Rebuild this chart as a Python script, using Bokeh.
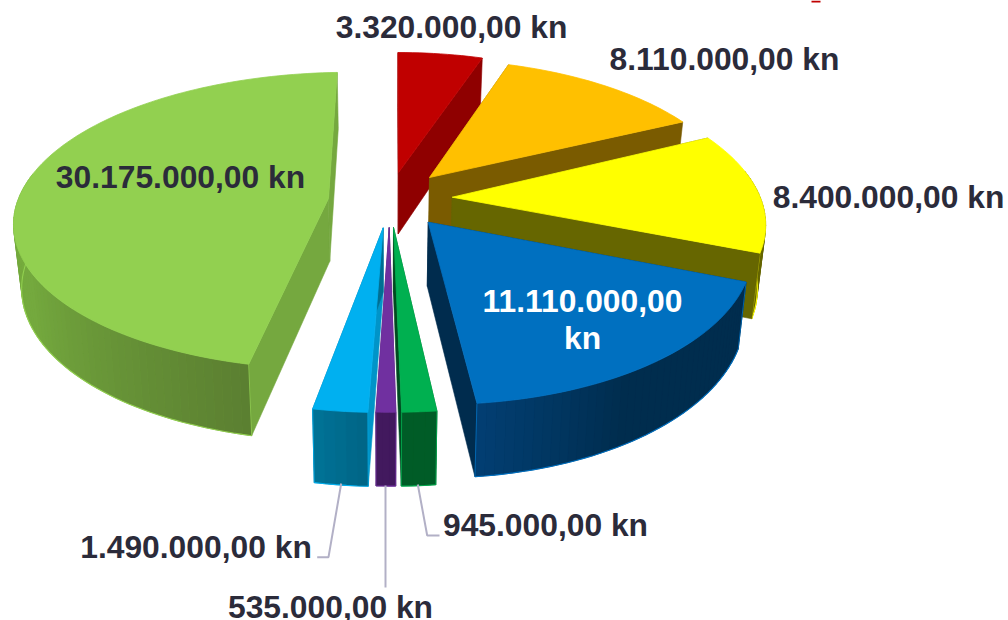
import math
from bokeh.plotting import figure
from bokeh.embed import file_html
from bokeh.resources import INLINE
from bokeh.core.properties import value

# ---- data ----
categories = ["red", "orange", "yellow", "blue", "green", "purple", "cyan", "lightgreen"]
amounts = [3320000, 8110000, 8400000, 11110000, 945000, 535000, 1490000, 30175000]
labels = ["3.320.000,00 kn", "8.110.000,00 kn", "8.400.000,00 kn", "11.110.000,00\nkn",
          "945.000,00 kn", "535.000,00 kn", "1.490.000,00 kn", "30.175.000,00 kn"]

# ---- styles / layout ----
face = ["#C00000", "#FFC000", "#FFFF00", "#0070C0", "#00B050", "#7030A0", "#00B0F0", "#92D050"]
start_wall = ["#8F0000", "#7A5B00", "#666600", "#002C4E", "#005C27", "#42195E", "#0094C8", "#75A83F"]
end_wall = ["#8F0000", "#7A5B00", "#666600", "#002C4E", "#004A20", "#42195E", "#006E92", "#75A83F"]
rim_stops = [
    [(0, "#8F0000"), (1, "#8F0000")],
    [(0, "#7A5B00"), (1, "#7A5B00")],
    [(0, "#666600"), (1, "#666600")],
    [(0, "#002D4E"), (0.6, "#002D4E"), (1, "#023F73")],
    [(0, "#005C27"), (1, "#005C27")],
    [(0, "#42195E"), (1, "#42195E")],
    [(0, "#006485"), (1, "#007397")],
    [(0, "#5B7F31"), (0.3, "#74A93E"), (1, "#7DB543")],
]
# apex x, apex y, rx, ry, shear x, side perspective  (per exploded slice)
geom = [
    (398.0, 172.0, 301, 138, 0.6, 0.0),
    (429.0, 177.0, 303, 136, 7.0, 0.0),
    (451.7, 196.7, 308, 145, 11.4, 0.0),
    (427.7, 221.7, 320, 155, 7.0, 0.0),
    (393.0, 227.0, 325, 157, 1.9, 0.0),
    (388.7, 227.0, 325, 157, 0.7, 0.0),
    (382.7, 227.3, 325, 157, -1.0, 0.0),
    (328.0, 198.0, 323, 145, -10.0, 0.042),
]
rim_behind_walls = [True, True, True, False, False, False, False, False]
PERSP = 0.15
INK = "#2B2B3A"
LEADER = "#B2B0C6"
FONT = "Liberation Sans"
FS = "31.8px"
BASE_SHIFT = -11.5

label_pos = [
    [(451, 38)], [(724, 70)], [(888, 208)], [(582, 312), (582, 349)],
    [(545, 536)], [(330, 618)], [(195.5, 557.5)], [(180, 188)],
]
label_col = [INK, INK, INK, "#FFFFFF", INK, INK, INK, INK]
leaders = [
    ([340.7, 328, 316.7], [483, 556.7, 556.7]),
    ([385, 385], [485, 587]),
    ([417.3, 426.7, 439], [484, 535, 535]),
]


def rim_pt(g, theta):
    ax, ay, rx, ry, sx, q = g
    u, v = math.sin(theta), -math.cos(theta)
    w = 1 - PERSP * v - q * u
    return ax + (rx * u + sx * v) / w, ay + ry * v / w


def drop(x, y):
    return x + 0.022 * (385 - x), y + 52.5 + 0.052 * y


def lerp_color(stops, t):
    for (t0, c0), (t1, c1) in zip(stops, stops[1:]):
        if t <= t1:
            f = (t - t0) / (t1 - t0) if t1 > t0 else 0
            a = [int(c0[i:i + 2], 16) for i in (1, 3, 5)]
            b = [int(c1[i:i + 2], 16) for i in (1, 3, 5)]
            return "#%02X%02X%02X" % tuple(round(p + (q - p) * f) for p, q in zip(a, b))
    return stops[-1][1]


p = figure(width=1008, height=620, x_range=(0, 1008), y_range=(620, 0),
           toolbar_location=None, output_backend="svg", min_border=0)
p.axis.visible = False
p.grid.visible = False
p.outline_line_color = None
p.background_fill_color = "#FFFFFF"
p.border_fill_color = "#FFFFFF"

total = sum(amounts)
edges = [0.0]
for a in amounts:
    edges.append(edges[-1] + a / total * 2 * math.pi)


def draw_walls(i, apex, apex_b, top, bot):
    p.patch([apex[0], top[0][0], bot[0][0], apex_b[0]], [apex[1], top[0][1], bot[0][1], apex_b[1]],
            fill_color=start_wall[i], line_color=start_wall[i], line_width=0.6)
    p.patch([apex[0], top[-1][0], bot[-1][0], apex_b[0]], [apex[1], top[-1][1], bot[-1][1], apex_b[1]],
            fill_color=end_wall[i], line_color=end_wall[i], line_width=0.6)


def draw_rim(i, angles, top, bot):
    n = len(angles) - 1
    vis = [k for k in range(n + 1) if -math.cos(angles[k]) >= -0.2]
    if len(vis) < 2:
        return
    tv = [top[k] for k in vis]
    bv = [bot[k] for k in vis]
    mid = lerp_color(rim_stops[i], 0.5)
    p.patch([q[0] for q in tv] + [q[0] for q in reversed(bv)],
            [q[1] for q in tv] + [q[1] for q in reversed(bv)],
            fill_color=mid, line_color=None)
    xs, ys, cols = [], [], []
    for k in vis[:-1]:
        xs.append([top[k][0], top[k + 1][0], bot[k + 1][0], bot[k][0]])
        ys.append([top[k][1], top[k + 1][1], bot[k + 1][1], bot[k][1]])
        cols.append(lerp_color(rim_stops[i], (k + 0.5) / n))
    p.patches(xs, ys, fill_color=cols, line_color=cols, line_width=0.5)
    p.line([q[0] for q in bv], [q[1] for q in bv], line_color=face[i], line_width=1.1)
    if vis[0] == 0:
        p.line([tv[0][0], bv[0][0]], [tv[0][1], bv[0][1]], line_color=face[i], line_width=0.8)
    if vis[-1] == n:
        p.line([tv[-1][0], bv[-1][0]], [tv[-1][1], bv[-1][1]], line_color=face[i], line_width=0.8)


for i, name in enumerate(categories):
    g = geom[i]
    t0, t1 = edges[i], edges[i + 1]
    n = max(3, int(math.degrees(t1 - t0) / 1.5))
    angles = [t0 + (t1 - t0) * k / n for k in range(n + 1)]
    top = [rim_pt(g, a) for a in angles]
    bot = [drop(*q) for q in top]
    apex = (g[0], g[1])
    apex_b = drop(*apex)

    if rim_behind_walls[i]:
        draw_rim(i, angles, top, bot)
        draw_walls(i, apex, apex_b, top, bot)
    else:
        draw_walls(i, apex, apex_b, top, bot)
        draw_rim(i, angles, top, bot)

    # top face
    p.patch([apex[0]] + [q[0] for q in top], [apex[1]] + [q[1] for q in top],
            fill_color=face[i], line_color=face[i], line_width=0.8)

for lx, ly in leaders:
    p.line(lx, ly, line_color=LEADER, line_width=2)

# sliver of a red mark at the very top edge of the picture
p.quad(left=[811], right=[820], top=[0], bottom=[2], fill_color="#C00000", line_color=None)

for i, text in enumerate(labels):
    for part, (x, y) in zip(text.split("\n"), label_pos[i]):
        p.text(x=[x], y=[y + BASE_SHIFT], text=[part], text_color=label_col[i],
               text_font=value(FONT), text_font_style="bold",
               text_font_size=value(FS), text_align="center", text_baseline="alphabetic")

open("out.html", "w").write(file_html(p, INLINE))
